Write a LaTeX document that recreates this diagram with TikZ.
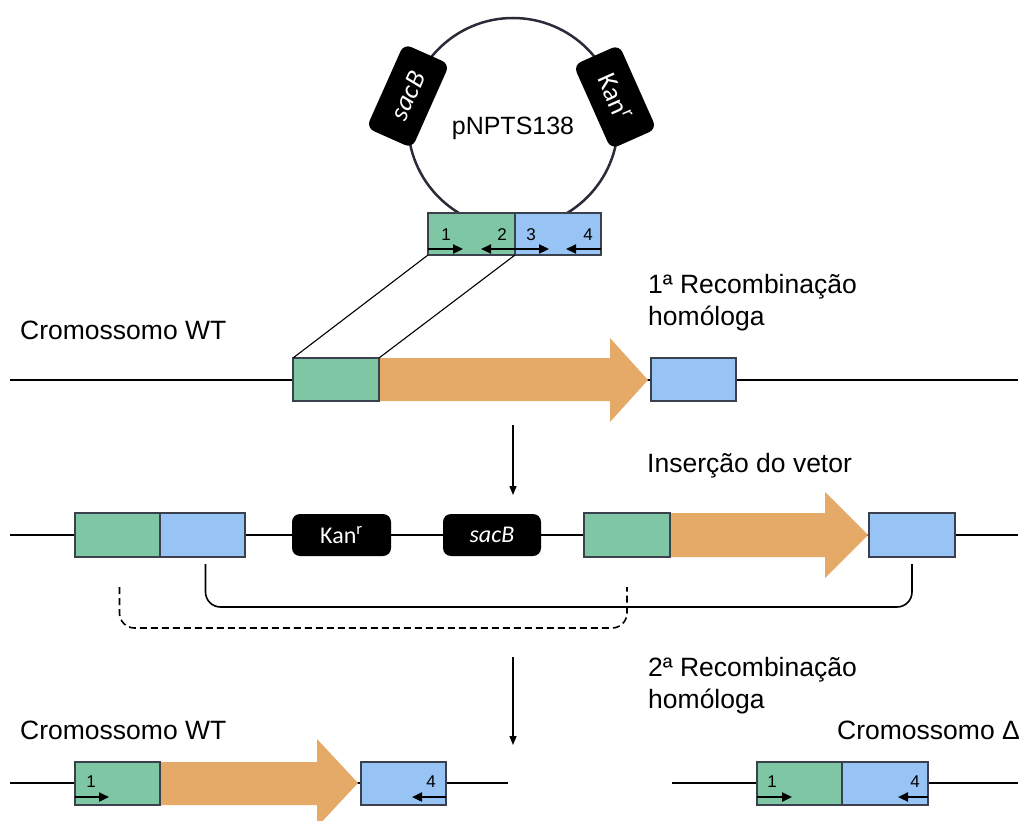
\documentclass[tikz,border=0pt]{standalone}
\usepackage{fontspec}
\setmainfont{Liberation Sans}
\newfontfamily\carlito{Carlito}
\usetikzlibrary{arrows.meta,calc}
\definecolor{gfill}{HTML}{7FC6A4}
\definecolor{bfill}{HTML}{97C4F5}
\definecolor{ofill}{HTML}{E5AA68}
\definecolor{bord}{HTML}{3A404C}
\definecolor{circ}{HTML}{2A2A38}
\begin{document}
\begin{tikzpicture}[x=1pt,y=-1pt,
  gbox/.style={draw=bord, fill=gfill, line width=1.4pt, minimum width=86pt, minimum height=43pt, inner sep=0pt, outer sep=0pt},
  bbox/.style={draw=bord, fill=bfill, line width=1.4pt, minimum width=86pt, minimum height=43pt, inner sep=0pt, outer sep=0pt},
  kbox/.style={fill=black, rounded corners=8pt, text=white, font=\carlito\fontsize{24}{24}\selectfont, minimum width=99pt, minimum height=42pt, inner sep=0pt},
  pbox/.style={fill=black, rounded corners=8pt, text=white, font=\carlito\fontsize{27}{27}\selectfont, minimum width=92pt, minimum height=50pt, inner sep=0pt},
  lbl/.style={font=\fontsize{26.5}{32}\selectfont, anchor=base west, inner sep=0pt},
  chrom/.style={line width=2.4pt, black},
  primer/.style={line width=2.3pt, -{Triangle[length=10pt,width=9pt]}},
  plab/.style={font=\fontsize{17}{17}\selectfont, inner sep=0pt},
  conn/.style={line width=1.1pt},
  down/.style={line width=1.4pt, -{Triangle[length=9pt,width=7pt]}},
  bracket/.style={line width=1.6pt, rounded corners=15pt}
]
\useasboundingbox (0,0) rectangle (1025,821);
\clip (0,0) rectangle (1025,821);
\fill[white] (0,0) rectangle (1025,821);

% ---------- plasmid ----------
\draw[line width=2.5pt, color=circ] (513,123) circle[radius=105];
\node[pbox, rotate=66] (ps) at (408,96) {\itshape sacB};
\node[pbox, rotate=-66] (pk) at (615,97) {Kan\textsuperscript{r}};
\node[font=\fontsize{25}{25}\selectfont, inner sep=0pt] (pn) at (513,128) {pNPTS138};
\node[gbox, minimum width=87pt, minimum height=42pt] (pg) at (471.5,234) {};
\node[bbox, minimum width=86pt, minimum height=42pt] (pb) at (558,234) {};
\draw[primer] (428,249) -- (463,249);
\draw[primer] (515,249) -- (481,249);
\draw[primer] (515,249) -- (549,249);
\draw[primer] (601,249) -- (566,249);
\node[plab] (p1) at (446,235) {1};
\node[plab] (p2) at (502,235) {2};
\node[plab] (p3) at (531,235) {3};
\node[plab] (p4) at (588,235) {4};

% ---------- row 1 ----------
\coordinate (r1l) at (10,380);
\coordinate (r1r) at (1018,380);
\draw[chrom] (r1l) -- (r1r);
\fill[ofill] (379,358) -- (610,358) -- (610,338) -- (648,380) -- (610,422) -- (610,401) -- (379,401) -- cycle;
\node[gbox] (g1) at (336,379.5) {};
\node[bbox, minimum width=85pt] (b1) at (693.5,379.5) {};
\draw[conn] (pg.south west) -- (g1.north west);
\draw[conn] (pg.south east) -- (g1.north east);

\node[lbl] (t1) at (20,339) {Cromossomo WT};
\node[lbl] (t2) at (648,293) {1ª Recombinação};
\node[lbl] (t2b) at (648,325) {homóloga};

\coordinate (a1s) at (513,425);
\coordinate (a1e) at (513,495);
\draw[down] (a1s) -- (a1e);

% ---------- row 2 ----------
\node[lbl] (t3) at (647,472) {Inserção do vetor};
\coordinate (r2l) at (10,535);
\coordinate (r2r) at (1018,535);
\draw[chrom] (r2l) -- (r2r);
\fill[ofill] (670,513) -- (825,513) -- (825,492) -- (868,535) -- (825,578) -- (825,557) -- (670,557) -- cycle;
\node[gbox, minimum width=85pt, minimum height=44pt] (g2a) at (117.5,535) {};
\node[bbox, minimum width=85pt, minimum height=44pt] (b2a) at (202.5,535) {};
\node[kbox] (k2) at (341.5,535) {Kan\textsuperscript{r}};
\node[kbox, minimum width=98pt] (s2) at (492,535) {\itshape sacB};
\node[gbox, minimum height=44pt] (g2b) at (627,535) {};
\node[bbox, minimum height=44pt] (b2b) at (912,535) {};
\draw[bracket] ($(b2a.south)+(3,7)$) |- ($(b2b.south)+(0,50)$) -- ($(b2b.south)+(0,7)$);
\draw[bracket, dash pattern=on 7pt off 4pt] ($(g2a.south)+(2,30)$) |- ($(g2b.south)+(0,71)$) -- ($(g2b.south)+(0,30)$);

\node[lbl] (t4) at (648,676) {2ª Recombinação};
\node[lbl] (t4b) at (648,708) {homóloga};
\coordinate (a2s) at (513,657);
\coordinate (a2e) at (513,745);
\draw[down] (a2s) -- (a2e);

% ---------- row 3 left ----------
\node[lbl] (t5) at (20,739) {Cromossomo WT};
\coordinate (r3l) at (10,783);
\coordinate (r3r) at (508,783);
\draw[chrom] (r3l) -- (r3r);
\fill[ofill] (160,762) -- (317,762) -- (317,739) -- (358,783) -- (317,827) -- (317,805) -- (160,805) -- cycle;
\node[gbox, minimum width=85pt] (g3) at (117.5,783.5) {};
\node[bbox, minimum width=85pt] (b3) at (403.5,783.5) {};
\draw[primer] (75,797) -- (109,797);
\draw[primer] (446,797) -- (412,797);
\node[plab] (q1) at (91,782) {1};
\node[plab] (q4) at (431,782) {4};

% ---------- row 3 right ----------
\node[lbl] (t6) at (837,739) {Cromossomo Δ};
\coordinate (r4l) at (672,783);
\coordinate (r4r) at (1018,783);
\draw[chrom] (r4l) -- (r4r);
\node[gbox, minimum width=85pt] (g4) at (799.5,783.5) {};
\node[bbox, minimum width=86pt] (b4) at (885,783.5) {};
\draw[primer] (757,797) -- (792,797);
\draw[primer] (928,797) -- (898,797);
\node[plab] (s1) at (772,782) {1};
\node[plab] (s4) at (915,782) {4};
\end{tikzpicture}
\end{document}
